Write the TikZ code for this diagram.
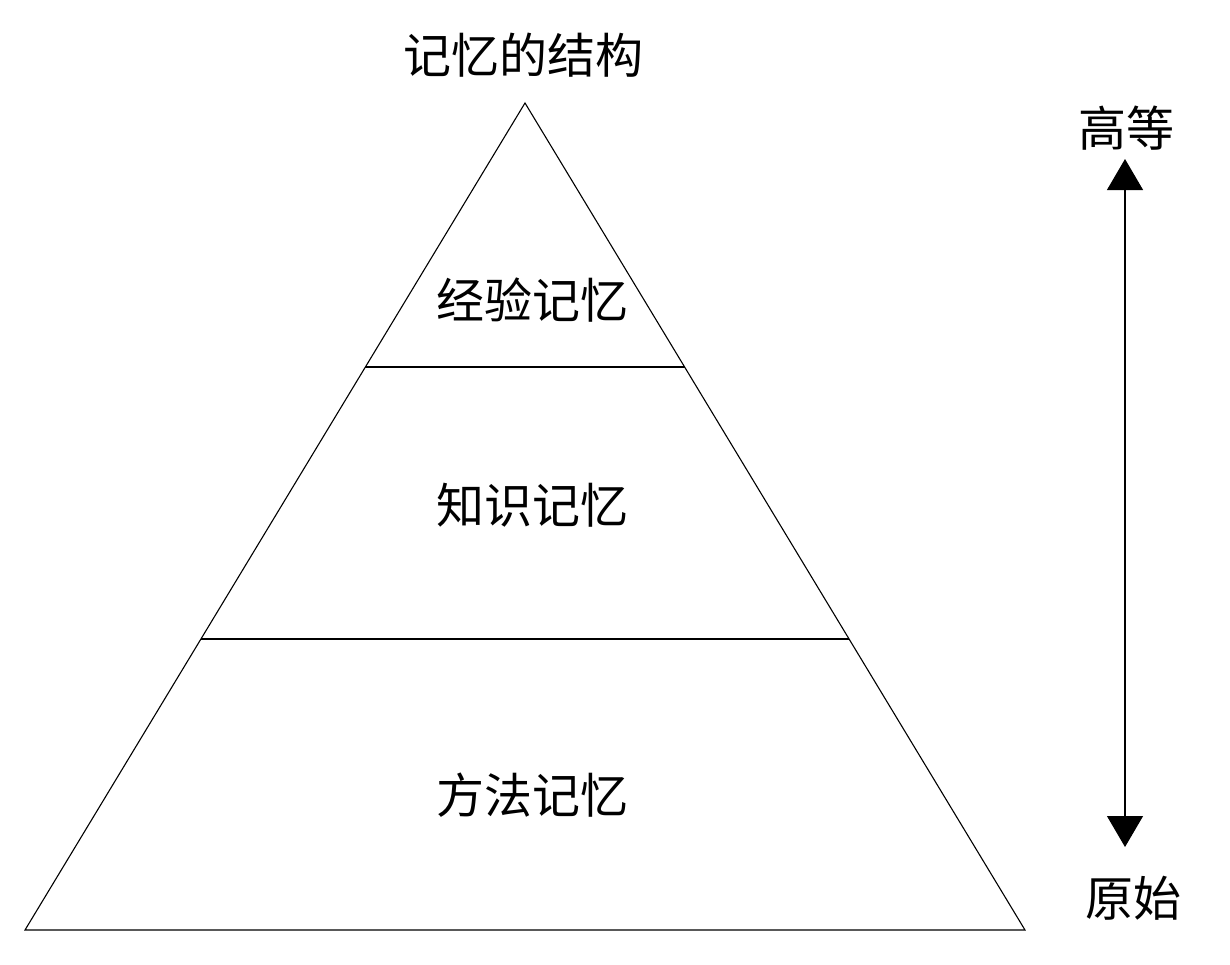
\documentclass[tikz,border=0pt]{standalone}
\usepackage{fontspec}
\newfontfamily\cjk{Noto Sans CJK SC}
\usetikzlibrary{arrows.meta}
\begin{document}
\begin{tikzpicture}[x=1pt,y=-1pt,
  edge/.style={draw=black,line width=1.1pt},
  lbl/.style={font=\cjk\fontsize{48}{52}\selectfont,inner sep=0pt}]
\useasboundingbox (0,0) rectangle (1230,964);
\coordinate (apex) at (525,103);
\coordinate (bl) at (25,930);
\coordinate (br) at (1025,930);
\draw[edge] (apex) -- (bl) -- (br) -- cycle;
\path (apex) -- (bl) coordinate[pos=0.3192] (l1a);
\path (apex) -- (br) coordinate[pos=0.3192] (r1a);
\path (apex) -- (bl) coordinate[pos=0.6481] (l2a);
\path (apex) -- (br) coordinate[pos=0.6481] (r2a);
\draw[edge] (l1a) -- (r1a);
\draw[edge] (l2a) -- (r2a);
\node[lbl] (title) at (523,55) {记忆的结构};
\node[lbl] (exp) at (532,300) {经验记忆};
\node[lbl] (know) at (532,505) {知识记忆};
\node[lbl] (meth) at (532,795) {方法记忆};
\node[lbl] (high) at (1126,128) {高等};
\node[lbl] (low) at (1133,898) {原始};
\coordinate (atop) at (1125,159);
\coordinate (abot) at (1125,847);
\draw[edge,{Triangle[width=36pt,length=31pt]}-{Triangle[width=36pt,length=31pt]}] (abot) -- (atop);
\end{tikzpicture}
\end{document}
